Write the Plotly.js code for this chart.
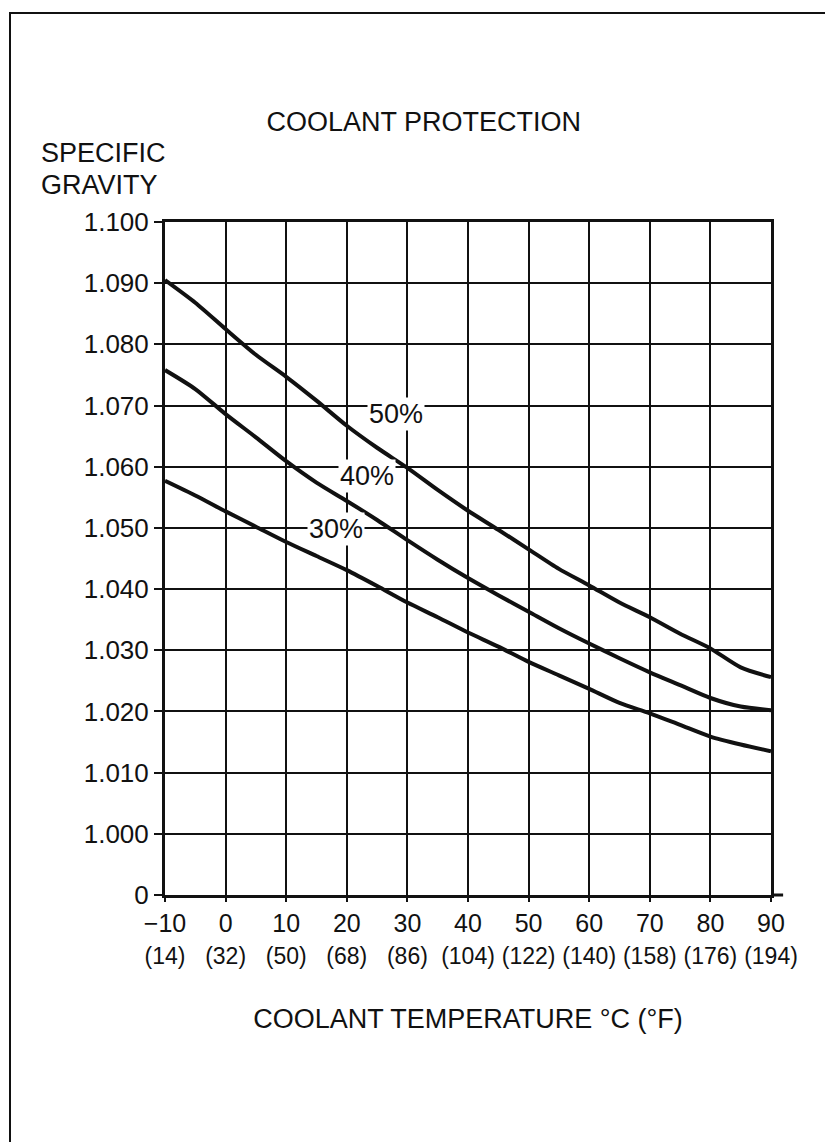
<!DOCTYPE html>
<html>
<head>
<meta charset="utf-8">
<script src="https://cdn.plot.ly/plotly-3.0.1.min.js"></script>
<style>
  html, body { margin: 0; padding: 0; background: #fff; }
  #wrap { position: relative; width: 825px; height: 1142px; overflow: hidden; }
  #plot { position: absolute; left: 0; top: 0; width: 825px; height: 1142px; }
  #frame { position: absolute; left: 9px; top: 12px; right: -10px; bottom: -10px;
           border-left: 2px solid #111; border-top: 2px solid #111; pointer-events: none; }
</style>
</head>
<body>
<div id="wrap"><div id="plot"></div><div id="frame"></div></div>
<script>
// Temperature in °C and matching °F labels
const tempC = [-10, -5, 0, 5, 10, 15, 20, 25, 30, 35, 40, 45, 50, 55, 60, 65, 70, 75, 80, 85, 90];
const tickC = [-10, 0, 10, 20, 30, 40, 50, 60, 70, 80, 90];
const tickCLabels = ['\u221210', '0', '10', '20', '30', '40', '50', '60', '70', '80', '90'];
const tickFLabels = ['(14)', '(32)', '(50)', '(68)', '(86)', '(104)', '(122)', '(140)', '(158)', '(176)', '(194)'];

// Specific gravity
const sg50 = [1.0905, 1.0868, 1.0825, 1.0783, 1.0747, 1.0708, 1.0667, 1.0631, 1.0598, 1.0562, 1.0528,
              1.0497, 1.0465, 1.0433, 1.0406, 1.0378, 1.0354, 1.0327, 1.0303, 1.0272, 1.0256];
const sg40 = [1.0758, 1.0727, 1.0686, 1.0648, 1.0609, 1.0574, 1.0544, 1.0513, 1.0480, 1.0448, 1.0418,
              1.0390, 1.0363, 1.0336, 1.0311, 1.0287, 1.0264, 1.0243, 1.0222, 1.0208, 1.0202];
const sg30 = [1.0577, 1.0553, 1.0527, 1.0502, 1.0477, 1.0454, 1.0431, 1.0405, 1.0378, 1.0354, 1.0329,
              1.0306, 1.0281, 1.0259, 1.0237, 1.0214, 1.0197, 1.0178, 1.0159, 1.0146, 1.0135];

// Y axis ticks (the bottom line is the broken-axis "0")
const tickY = [0.99, 1.00, 1.01, 1.02, 1.03, 1.04, 1.05, 1.06, 1.07, 1.08, 1.09, 1.10];
const tickYLabels = ['0', '1.000', '1.010', '1.020', '1.030', '1.040', '1.050', '1.060', '1.070', '1.080', '1.090', '1.100'];

// Curve labels
const curveNames = ['50%', '40%', '30%'];
const labelX = [28.1, 23.4, 18.2];
const labelY = [1.0687, 1.0585, 1.0498];

const FONT = 'Liberation Sans, Arial, Helvetica, sans-serif';
const INK = '#111';

const lineStyle = {color: INK, width: 4, shape: 'spline', smoothing: 0.7};
const series = [sg50, sg40, sg30];
const traces = series.map((ys, i) => ({
  type: 'scatter', mode: 'lines', x: tempC, y: ys, name: curveNames[i],
  line: lineStyle, hoverinfo: 'skip', showlegend: false
}));
// carrier trace for the °F tick row
traces.push({type: 'scatter', mode: 'lines', x: tickC, y: tickC.map(() => null),
  xaxis: 'x2', yaxis: 'y', showlegend: false, hoverinfo: 'skip'});

const annotations = curveNames.map((t, i) => ({
  x: labelX[i], y: labelY[i], xref: 'x', yref: 'y', text: t, showarrow: false,
  font: {family: FONT, size: 27, color: INK}, bgcolor: '#fff', borderpad: 1,
  xanchor: 'center', yanchor: 'middle'
}));
annotations.push({x: -0.208, y: 1.1025, xref: 'paper', yref: 'paper', text: 'SPECIFIC',
  showarrow: false, xanchor: 'left', yanchor: 'middle', font: {family: FONT, size: 27, color: INK}});
annotations.push({x: -0.208, y: 1.055, xref: 'paper', yref: 'paper', text: 'GRAVITY',
  showarrow: false, xanchor: 'left', yanchor: 'middle', font: {family: FONT, size: 27, color: INK}});

const layout = {
  width: 825, height: 1142,
  margin: {l: 165, r: 54, t: 222, b: 247, autoexpand: false},
  paper_bgcolor: 'rgba(0,0,0,0)', plot_bgcolor: '#fff',
  font: {family: FONT, color: INK},
  title: {text: 'COOLANT PROTECTION', x: 0.427, xref: 'paper', xanchor: 'center',
          y: 1 - 122 / 1142, yref: 'container', yanchor: 'middle',
          font: {family: FONT, size: 27, color: INK}},
  xaxis: {
    range: [-10, 90], tickvals: tickC, ticktext: tickCLabels, tickangle: 0,
    showgrid: true, gridcolor: INK, gridwidth: 2,
    showline: true, linecolor: INK, linewidth: 3, mirror: true,
    ticks: 'outside', ticklen: 4, tickwidth: 2, tickcolor: INK,
    zeroline: false, tickfont: {family: FONT, size: 25, color: INK},
    title: {text: 'COOLANT TEMPERATURE \u00b0C (\u00b0F)', standoff: 74,
            font: {family: FONT, size: 27, color: INK}},
    automargin: false, fixedrange: true
  },
  xaxis2: {
    overlaying: 'x', matches: 'x', anchor: 'y', side: 'bottom',
    tickvals: tickC, ticktext: tickFLabels, tickangle: 0, showgrid: false, showline: false,
    zeroline: false, ticks: '', ticklabelstandoff: 45,
    tickfont: {family: FONT, size: 23, color: INK}, automargin: false
  },
  yaxis: {
    range: [0.99, 1.10], tickvals: tickY, ticktext: tickYLabels,
    showgrid: true, gridcolor: INK, gridwidth: 2,
    showline: true, linecolor: INK, linewidth: 3, mirror: true,
    ticks: 'outside', ticklen: 8, tickwidth: 2, tickcolor: INK,
    zeroline: false, tickfont: {family: FONT, size: 26, color: INK},
    automargin: false, fixedrange: true
  },
  shapes: [{type: 'line', xref: 'paper', yref: 'paper', x0: 1, x1: 1.02, y0: 0, y1: 0,
            line: {color: INK, width: 3}}],
  annotations: annotations,
  showlegend: false
};

Plotly.newPlot('plot', traces, layout, {staticPlot: true, displayModeBar: false});
</script>
</body>
</html>
